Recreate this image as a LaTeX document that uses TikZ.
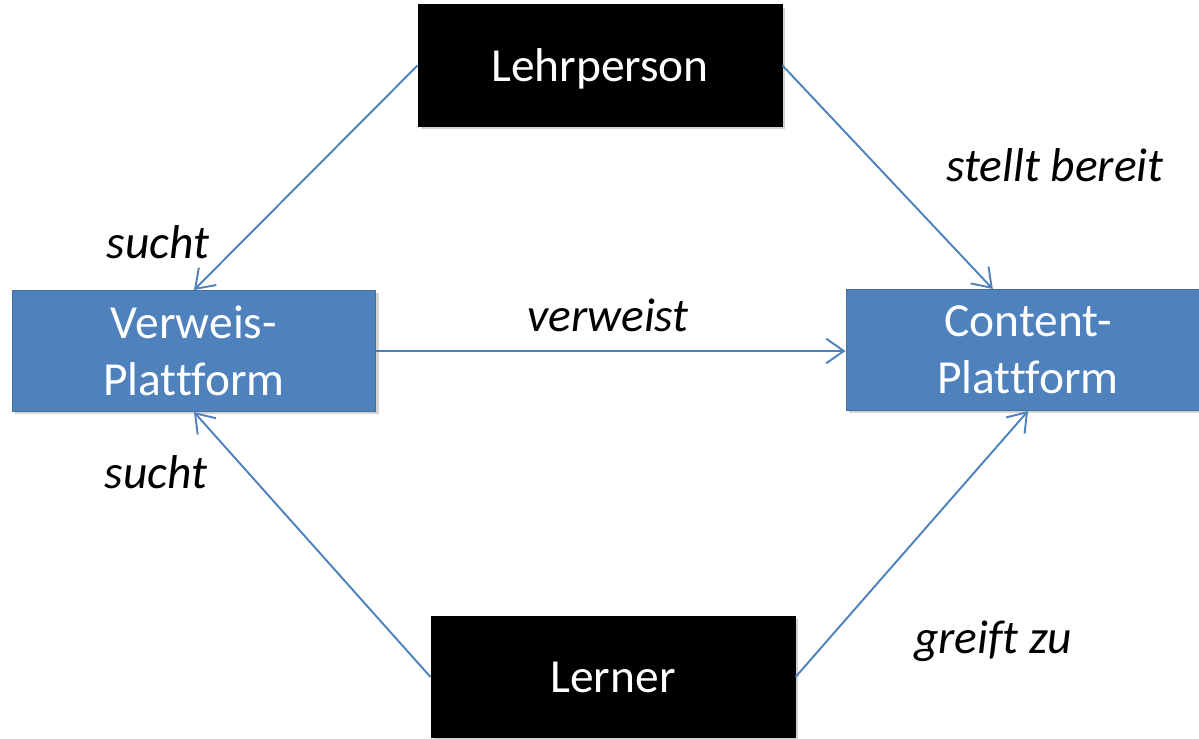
\documentclass[tikz,border=0pt]{standalone}
\usepackage{fontspec}
\setmainfont{Carlito}[Ligatures=NoCommon,RawFeature={-calt}]
\usetikzlibrary{arrows.meta,shadows}
\definecolor{officeblue}{HTML}{4F81BD}
\definecolor{officeedge}{HTML}{41719C}

\begin{document}
\begin{tikzpicture}[x=0.02cm,y=-0.02cm,
    box/.style={draw=officeedge,line width=0.6pt,fill=officeblue,text=white,
        minimum width=7.28cm,minimum height=2.42cm,inner sep=0,align=center,
        font=\fontsize{27}{32.5}\selectfont,
        drop shadow={shadow xshift=1.5pt,shadow yshift=-1.5pt,opacity=0.35}},
    darkbox/.style={box,fill=black,draw=black},
    link/.style={draw=officeblue,line width=1.1pt,
        -{Straight Barb[length=10pt,width=14pt,line width=1.1pt]}},
    lbl/.style={font=\fontsize{27}{32.5}\selectfont\itshape,inner sep=0}]
    \useasboundingbox (0,0) rectangle (1199,738);
    % boxes
    \node[darkbox] (lehrer) at (600,65.5) {\raisebox{-2pt}[\height][\depth]{Lehrperson}};
    \node[darkbox] (lerner) at (613,677) {Lerner};
    \node[box] (verweis) at (194,351) {Verweis-\\Plattform};
    \node[box] (content) at (1028,350) {Content-\\Plattform};
    % connectors
    \draw[link] (lehrer.west) -- (verweis.north);
    \draw[link] (lehrer.east) -- (content.120);
    \draw[link] (verweis.east) -- (content.west |- verweis.east);
    \draw[link] (lerner.west) -- (verweis.south);
    \draw[link] (lerner.east) -- (content.south);
    % labels
    \node[lbl] (sucht1) at (158,242) {sucht};
    \node[lbl] (bereit) at (1055,165) {stellt bereit};
    \node[lbl] (verw) at (608,315) {verweist};
    \node[lbl] (sucht2) at (156,472) {sucht};
    \node[lbl] (greift) at (993,641) {greift zu};
\end{tikzpicture}
\end{document}
